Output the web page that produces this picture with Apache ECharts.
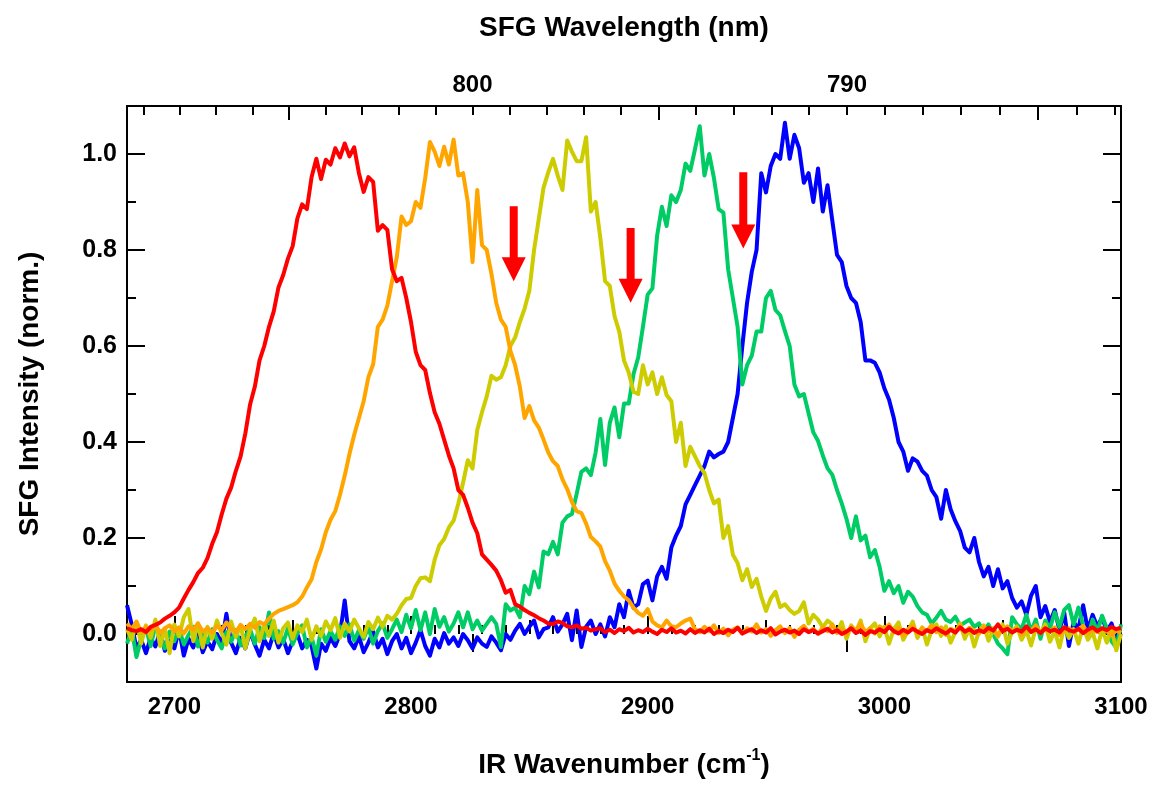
<!DOCTYPE html>
<html>
<head>
<meta charset="utf-8">
<script src="https://cdn.jsdelivr.net/npm/echarts@6/dist/echarts.min.js"></script>
<style>
html,body{margin:0;padding:0;background:#fff;}
#chart{width:1154px;height:785px;}
</style>
</head>
<body>
<div id="chart"></div>
<script>
// ---- data ----
const wavenumberStart = 2680;
const wavenumberStep = 2;

const redY = [
0.012,0.008,0.006,0.010,0.004,0.015,0.019,0.024,0.032,0.038,
0.045,0.055,0.074,0.092,0.108,0.127,0.138,0.158,0.188,0.212,
0.249,0.282,0.305,0.340,0.370,0.418,0.478,0.515,0.570,0.600,
0.640,0.672,0.722,0.748,0.782,0.808,0.866,0.895,0.885,0.952,
0.990,0.948,0.988,0.978,1.012,0.993,1.022,0.995,1.014,0.960,
0.921,0.952,0.942,0.840,0.852,0.842,0.760,0.735,0.742,0.700,
0.650,0.588,0.560,0.550,0.502,0.462,0.438,0.405,0.372,0.345,
0.300,0.290,0.263,0.232,0.210,0.166,0.155,0.144,0.132,0.112,
0.086,0.092,0.062,0.057,0.050,0.044,0.039,0.033,0.028,0.022,
0.021,0.026,0.023,0.016,0.014,0.018,0.011,0.013,0.007,0.010,
0.012,0.004,0.009,0.002,0.010,0.006,0.013,0.003,0.008,0.004,
0.011,0.005,0.000,0.009,0.004,0.012,0.003,0.007,0.001,0.010,
0.002,0.008,0.003,0.011,0.000,0.006,0.002,0.009,0.004,0.013,
0.001,0.006,0.010,0.002,0.008,0.003,0.012,-0.001,0.005,0.009,
0.003,0.007,0.000,0.010,0.004,0.008,0.001,0.006,0.011,0.003,
0.008,0.000,0.005,0.012,0.002,0.007,-0.002,0.006,0.003,0.010,
0.004,0.015,0.006,0.001,0.009,0.003,0.011,0.005,0.000,0.008,
0.004,0.012,0.006,0.001,0.009,0.003,0.014,0.005,0.010,0.002,
0.008,0.004,0.013,0.007,0.020,0.006,0.011,0.003,0.009,0.005,
0.016,0.004,0.010,0.002,0.012,0.006,0.009,0.003,0.014,0.008,
0.005,0.011,0.002,0.009,0.014,0.006,0.012,0.008,0.015,0.010,
0.013
];

const orangeY = [
0.022,0.010,0.026,0.004,0.015,0.008,0.020,0.002,0.012,0.018,
0.006,0.014,0.001,0.016,0.009,0.022,0.005,0.012,0.003,0.017,
0.008,0.024,0.011,0.004,0.019,0.010,0.021,0.013,0.025,0.020,
0.032,0.042,0.048,0.052,0.056,0.060,0.066,0.078,0.097,0.114,
0.150,0.176,0.212,0.238,0.256,0.290,0.330,0.375,0.415,0.450,
0.485,0.535,0.562,0.640,0.655,0.684,0.735,0.785,0.870,0.852,
0.860,0.900,0.888,0.950,1.025,1.005,0.975,1.015,0.978,1.030,
0.955,0.960,0.900,0.775,0.925,0.810,0.800,0.750,0.690,0.655,
0.640,0.590,0.560,0.515,0.450,0.475,0.445,0.430,0.405,0.378,
0.360,0.350,0.322,0.302,0.275,0.256,0.252,0.230,0.202,0.193,
0.182,0.152,0.132,0.105,0.090,0.078,0.070,0.055,0.044,0.038,
0.052,0.026,0.018,0.014,0.028,0.016,0.014,0.022,0.028,0.032,
0.010,0.004,0.015,0.006,0.018,0.002,0.011,-0.003,0.009,0.014,
0.001,0.012,0.005,0.020,0.003,0.010,-0.004,0.008,0.016,0.002,
0.012,-0.006,0.009,0.017,0.004,0.011,0.000,0.014,0.006,0.019,
0.003,0.010,-0.002,0.015,0.007,0.021,0.004,0.012,0.001,0.016,
0.008,0.020,0.003,0.013,-0.004,0.010,0.017,0.002,0.012,0.006,
0.019,0.004,0.014,-0.002,0.011,0.006,0.018,0.003,0.013,0.008,
0.001,0.015,0.005,0.012,-0.003,0.009,0.016,0.004,0.011,-0.001,
0.013,0.006,0.018,0.002,0.010,0.005,0.014,-0.002,0.008,0.012,
0.003,0.010,0.017,0.001,0.009,0.004,0.012,0.006,-0.003,0.008,
0.002
];

const yellowY = [
0.010,-0.012,0.025,-0.020,0.018,-0.008,0.030,-0.025,0.012,-0.040,
0.020,-0.005,0.035,0.052,-0.015,0.022,-0.028,0.015,-0.010,0.028,
0.002,-0.022,0.026,-0.006,0.018,-0.030,0.010,0.032,-0.015,0.020,
-0.004,0.028,-0.018,0.012,0.024,-0.010,0.018,0.004,0.030,-0.012,
0.016,-0.004,0.026,0.008,0.033,-0.008,0.022,0.005,0.030,0.012,
-0.006,0.025,0.010,0.034,0.015,0.038,0.030,0.042,0.060,0.073,
0.075,0.100,0.116,0.118,0.110,0.155,0.185,0.198,0.222,0.236,
0.272,0.315,0.362,0.345,0.425,0.462,0.495,0.538,0.530,0.535,
0.560,0.600,0.618,0.650,0.678,0.715,0.800,0.865,0.930,0.962,
0.990,0.955,0.925,1.028,1.005,0.985,0.985,1.035,0.880,0.900,
0.825,0.735,0.725,0.662,0.630,0.570,0.545,0.505,0.500,0.560,
0.520,0.545,0.500,0.535,0.498,0.485,0.400,0.440,0.350,0.390,
0.370,0.350,0.335,0.300,0.272,0.280,0.200,0.225,0.165,0.148,
0.112,0.135,0.098,0.115,0.078,0.048,0.074,0.088,0.056,0.062,
0.050,0.042,0.048,0.066,0.022,0.040,0.030,0.014,0.028,0.020,
0.002,0.025,-0.010,0.018,0.005,0.028,-0.015,0.012,0.022,-0.005,
0.015,-0.020,0.010,0.024,-0.012,0.006,0.026,-0.008,0.014,-0.022,
0.008,0.020,-0.004,0.016,-0.018,0.004,0.022,-0.010,0.012,-0.026,
0.006,0.018,-0.014,0.010,-0.006,0.020,-0.020,0.004,0.016,-0.012,
0.008,-0.024,0.012,0.002,0.020,-0.016,0.006,-0.028,0.014,-0.008,
0.010,-0.020,0.016,-0.012,0.004,-0.030,0.010,-0.018,0.012,-0.034,
0.000
];

const greenY = [
-0.020,0.010,-0.048,-0.010,0.012,-0.025,0.018,-0.008,-0.030,0.005,
-0.015,0.012,-0.022,-0.002,0.015,-0.026,0.000,-0.018,0.010,-0.012,
-0.030,0.004,-0.016,0.008,-0.024,-0.004,0.010,-0.020,0.014,-0.008,
0.045,-0.010,0.006,-0.018,0.012,-0.022,0.002,0.018,-0.028,-0.006,
-0.045,0.010,-0.016,0.006,-0.012,0.016,-0.004,0.020,-0.014,0.008,
-0.010,0.014,-0.020,0.006,0.022,-0.008,0.010,0.030,0.004,0.040,
0.012,0.050,0.008,0.045,0.000,0.052,0.015,0.035,0.005,0.022,
0.045,0.014,0.045,0.010,0.028,0.007,0.021,0.035,0.021,-0.027,
0.062,0.049,0.055,0.035,0.100,0.083,0.130,0.097,0.172,0.166,
0.192,0.166,0.232,0.245,0.250,0.292,0.338,0.345,0.331,0.378,
0.448,0.352,0.440,0.472,0.410,0.480,0.480,0.541,0.576,0.640,
0.707,0.720,0.830,0.890,0.850,0.914,0.900,0.925,0.980,0.965,
1.010,1.058,0.955,1.000,0.950,0.885,0.878,0.760,0.700,0.640,
0.520,0.560,0.580,0.630,0.630,0.700,0.715,0.675,0.664,0.631,
0.600,0.520,0.495,0.500,0.460,0.420,0.402,0.372,0.345,0.332,
0.300,0.272,0.240,0.200,0.245,0.195,0.205,0.160,0.175,0.140,
0.090,0.110,0.085,0.100,0.065,0.088,0.078,0.058,0.045,0.040,
0.022,0.034,0.048,0.030,0.025,0.036,0.018,0.024,0.030,0.015,
0.022,0.006,0.020,0.000,-0.020,-0.030,-0.042,0.035,0.020,0.010,
0.040,0.005,0.030,-0.010,0.028,0.012,0.045,0.015,0.050,0.060,
0.020,0.055,0.018,-0.008,0.030,0.005,0.038,0.012,-0.015,-0.028,
0.020
];

const blueY = [
0.060,0.020,-0.030,-0.012,-0.040,-0.008,-0.026,0.005,-0.035,-0.015,
-0.030,0.010,-0.045,-0.010,-0.028,0.002,-0.038,-0.015,-0.032,0.000,
-0.020,0.042,-0.018,-0.040,-0.008,-0.030,0.005,-0.022,-0.045,-0.012,
-0.030,0.002,-0.028,-0.010,-0.040,-0.015,0.000,-0.030,-0.012,-0.025,
-0.072,-0.020,-0.035,-0.008,-0.025,0.000,0.070,-0.015,-0.030,-0.005,
-0.038,-0.018,0.005,-0.028,-0.010,-0.042,-0.015,0.000,-0.030,-0.008,
-0.040,-0.018,0.008,-0.025,-0.045,-0.010,-0.028,0.002,-0.020,-0.007,
-0.025,0.000,-0.013,-0.030,-0.007,-0.020,-0.027,-0.005,-0.018,-0.034,
0.000,-0.012,0.007,0.021,0.000,0.015,0.028,-0.007,0.010,0.014,
0.035,0.005,0.020,0.042,-0.013,0.049,-0.027,0.015,0.028,0.000,
0.020,-0.005,0.035,0.014,0.062,0.035,0.090,0.055,0.062,0.104,
0.111,0.070,0.120,0.140,0.115,0.180,0.205,0.225,0.270,0.290,
0.310,0.330,0.350,0.380,0.368,0.375,0.380,0.400,0.450,0.500,
0.600,0.690,0.755,0.800,0.960,0.920,0.975,1.000,0.990,1.065,
0.990,1.040,1.012,0.940,0.960,0.900,0.970,0.880,0.935,0.862,
0.790,0.775,0.725,0.700,0.690,0.650,0.570,0.570,0.565,0.545,
0.512,0.488,0.450,0.400,0.380,0.340,0.366,0.359,0.340,0.330,
0.300,0.285,0.240,0.300,0.260,0.235,0.215,0.180,0.170,0.200,
0.150,0.120,0.140,0.100,0.135,0.095,0.110,0.075,0.055,0.068,
0.040,0.080,0.100,0.035,0.058,0.025,0.050,0.008,0.045,-0.025,
0.025,0.010,0.060,0.008,0.040,0.015,0.035,0.006,0.022,-0.010,
0.002
];

// red arrows: position (cm-1), top and tip (intensity)
const arrowX   = [2843.4, 2892.8, 2940.4];
const arrowTop = [0.891, 0.846, 0.962];
const arrowTip = [0.735, 0.690, 0.803];

// tick values
const xLabelTicks = [2700, 2800, 2900, 3000, 3100];
const xMidTicks = [2750, 2850, 2950, 3050];
const xMinorTicks = [2690,2700,2710,2720,2730,2740,2750,2760,2770,2780,2790,2800,2810,2820,2830,2840,2850,2860,2870,2880,2890,2900,2910,2920,2930,2940,2950,2960,2970,2980,2990,3000,3010,3020,3030,3040,3050,3060,3070,3080,3090];
const yLabelTicks = [0.0, 0.2, 0.4, 0.6, 0.8, 1.0];
const yMinorTicks = [0.1, 0.3, 0.5, 0.7, 0.9];
const visibleWavenumber = 9674; // cm-1, SFG = IR + visible
const nmLabelTicks = [800, 790];
const nmMidTicks = [805, 795, 785];
const nmMinorTicks = [809,808,807,806,805,804,803,802,801,800,799,798,797,796,795,794,793,792,791,790,789,788,787,786,785,784,783];

// ---- build ----
const xs = redY.map((_, i) => wavenumberStart + i * wavenumberStep);
const pair = arr => arr.map((v, i) => [xs[i], v]);
const nmToIR = nm => 1e7 / nm - visibleWavenumber;
const irToNm = ir => Math.round(1e7 / (ir + visibleWavenumber));

const FONT = "'Liberation Sans', Arial, Helvetica, sans-serif";
const lblStyle = { color: '#000', fontFamily: FONT, fontWeight: 'bold', fontSize: 24 };
const tickLine = { color: '#000', width: 2 };
const XMIN = 2680, XMAX = 3100, YMIN = -0.1, YMAX = 1.1;

function xAx(pos, ticks, len, extra) {
  return Object.assign({
    type: 'value', position: pos, min: XMIN, max: XMAX,
    axisLine: { show: false },
    splitLine: { show: false },
    axisTick: { show: true, inside: true, length: len, lineStyle: tickLine, customValues: ticks },
    axisLabel: { show: false },
    minorTick: { show: false }
  }, extra || {});
}
function yAx(pos, ticks, len, extra) {
  return Object.assign({
    type: 'value', position: pos, min: YMIN, max: YMAX,
    axisLine: { show: false },
    splitLine: { show: false },
    axisTick: { show: true, inside: true, length: len, lineStyle: tickLine, customValues: ticks },
    axisLabel: { show: false },
    minorTick: { show: false }
  }, extra || {});
}

const lineSeries = (name, data, color) => ({
  name, type: 'line', data: pair(data), xAxisIndex: 0, yAxisIndex: 0,
  showSymbol: false, symbol: 'none', smooth: false, sampling: 'none',
  lineStyle: { color, width: 4, join: 'round' }, itemStyle: { color },
  silent: true, animation: false
});

const chart = echarts.init(document.getElementById('chart'), null, { renderer: 'canvas' });

chart.setOption({
  backgroundColor: '#fff',
  animation: false,
  grid: { left: 127, top: 106, width: 994, height: 581, show: true, borderColor: '#000', borderWidth: 2, backgroundColor: 'transparent' },
  xAxis: [
    xAx('bottom', xLabelTicks, 18, {
      axisLabel: Object.assign({ show: true, customValues: xLabelTicks, margin: 13,
        formatter: v => String(v) }, lblStyle),
      name: '{a|IR Wavenumber (cm}{s|-1}{a|)}',
      nameLocation: 'middle', nameGap: 66,
      nameTextStyle: { rich: {
        a: { fontFamily: FONT, fontWeight: 'bold', fontSize: 28, color: '#000', lineHeight: 34 },
        s: { fontFamily: FONT, fontWeight: 'bold', fontSize: 16, color: '#000', verticalAlign: 'top', lineHeight: 34, padding: [0, 0, 16, 0] }
      } }
    }),
    xAx('bottom', xMidTicks, 14),
    xAx('bottom', xMinorTicks, 9),
    xAx('top', nmLabelTicks.map(nmToIR), 18, {
      axisLabel: Object.assign({ show: true, customValues: nmLabelTicks.map(nmToIR), margin: 9,
        formatter: v => String(irToNm(v)) }, lblStyle),
      name: 'SFG Wavelength (nm)', nameLocation: 'middle', nameGap: 64,
      nameTextStyle: { fontFamily: FONT, fontWeight: 'bold', fontSize: 28, color: '#000' }
    }),
    xAx('top', nmMidTicks.map(nmToIR), 14),
    xAx('top', nmMinorTicks.map(nmToIR), 9)
  ],
  yAxis: [
    yAx('left', yLabelTicks, 18, {
      axisLabel: Object.assign({ show: true, customValues: yLabelTicks, margin: 10,
        formatter: v => v.toFixed(1) }, lblStyle, { fontSize: 25 }),
      name: 'SFG Intensity (norm.)', nameLocation: 'middle', nameGap: 83, nameRotate: 90,
      nameTextStyle: { fontFamily: FONT, fontWeight: 'bold', fontSize: 28, color: '#000' }
    }),
    yAx('left', yMinorTicks, 9),
    yAx('right', yLabelTicks, 18),
    yAx('right', yMinorTicks, 9)
  ],
  series: [
    lineSeries('blue', blueY, '#0000FF'),
    lineSeries('green', greenY, '#00CC66'),
    lineSeries('yellow', yellowY, '#CCCC00'),
    lineSeries('orange', orangeY, '#FFA500'),
    lineSeries('red', redY, '#FF0000'),
    {
      type: 'custom', xAxisIndex: 0, yAxisIndex: 0, silent: true, animation: false, z: 10,
      data: arrowX.map((x, i) => [x, arrowTop[i], arrowTip[i]]),
      renderItem: (params, api) => {
        const top = api.coord([api.value(0), api.value(1)]);
        const tip = api.coord([api.value(0), api.value(2)]);
        const cx = top[0], headH = 24, headHalf = 12, shaftHalf = 4;
        const base = tip[1] - headH;
        return {
          type: 'polygon',
          shape: { points: [
            [cx - shaftHalf, top[1]], [cx + shaftHalf, top[1]], [cx + shaftHalf, base],
            [cx + headHalf, base], [cx, tip[1]], [cx - headHalf, base], [cx - shaftHalf, base]
          ] },
          style: { fill: '#FF0000', stroke: null }
        };
      }
    }
  ]
});
</script>
</body>
</html>
